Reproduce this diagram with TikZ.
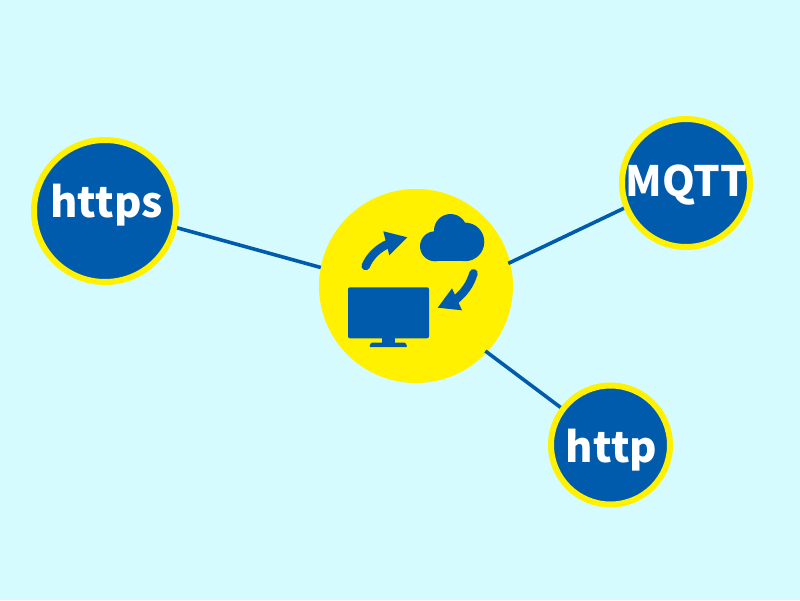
\documentclass[tikz,border=0pt]{standalone}
\usepackage{fontspec}
\setmainfont{Noto Sans CJK JP}
\usetikzlibrary{backgrounds}
\definecolor{bgc}{HTML}{D5FBFF}
\definecolor{yel}{HTML}{FFF100}
\definecolor{blu}{HTML}{005BAC}
\tikzset{
  proto/.style={circle,draw=yel,fill=blu,line width=6pt,inner sep=0pt,outer sep=0pt,text=white,
    font=\fontsize{41.8}{42}\selectfont\bfseries},
  hubnode/.style={circle,fill=yel,inner sep=0pt,outer sep=0pt,minimum size=194pt},
  link/.style={draw=blu,line width=3.6pt,shorten <=-2pt},
  icon/.style={fill=blu,draw=none},
  bent/.style={draw=blu,line width=8.5pt,line cap=round}
}
\begin{document}
\begin{tikzpicture}[x=1pt,y=-1pt]
\useasboundingbox (0,0) rectangle (800,600);
\node[proto,minimum size=142pt,text height=22pt,text depth=9.4pt] (https) at (105,211) {\hspace*{3pt}https};
\node[proto,minimum size=128pt,text height=30pt,text depth=2.6pt] (mqtt) at (686,183) {\hspace*{1pt}MQTT};
\node[proto,minimum size=119pt,text height=36pt,text depth=0.6pt] (http) at (610.5,445) {\hspace*{2pt}http};
\begin{scope}[on background layer]
  \fill[bgc] (0,0) rectangle (800,600);
  \node[hubnode] (hub) at (416,286) {};
  \draw[link,shorten <=0pt] (hub.169.7) -- (https.-13.3);
  \draw[link] (hub.14.6) -- (mqtt.202.75);
  \draw[link] (hub.-43.3) -- (http.143.2);
\end{scope}
% monitor
\fill[icon,rounded corners=2pt] (348,287.3) rectangle (429,338.3);
\fill[icon] (382,337) rectangle (394.7,344);
\fill[icon,rounded corners=1pt] (369.3,347) -- (371,342.7) -- (405.5,342.7) -- (407.3,347) -- cycle;
% cloud
\fill[icon] (435,246.3) circle (15);
\fill[icon] (450.5,230.5) circle (16.5);
\fill[icon] (465,241.9) circle (19.3);
\fill[icon] (435,240) rectangle (465,261.2);
% arrows
\draw[bent] (365.7,266) .. controls (370,256) and (378,248) .. (390,243);
\fill[icon] (407.3,237.3) -- (383.3,231.3) -- (389.3,255.3) -- cycle;
\draw[bent] (473.5,273.3) .. controls (470,285) and (464,293) .. (454,301);
\fill[icon] (437.7,307.7) -- (452,288.3) -- (462,310.3) -- cycle;
\end{tikzpicture}
\end{document}
